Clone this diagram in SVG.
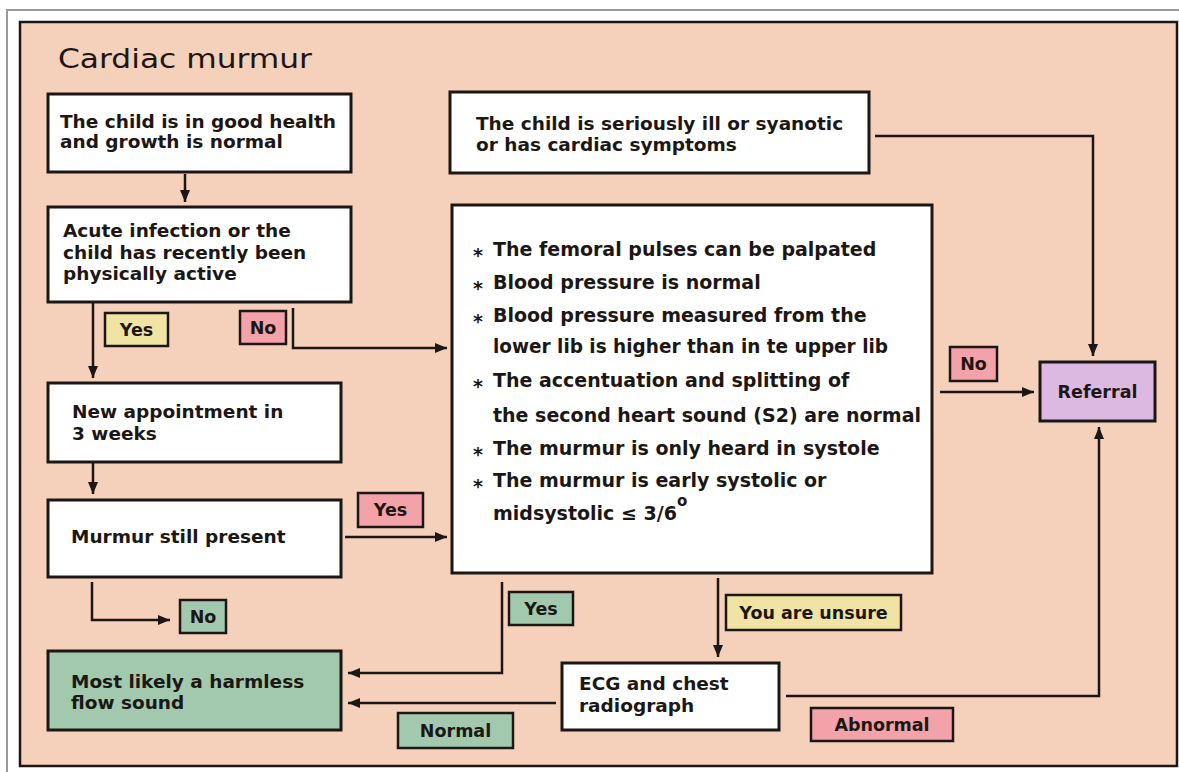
<svg xmlns="http://www.w3.org/2000/svg" width="1179" height="772" viewBox="0 0 1179 772">
<defs>
<style>
.box{stroke:#1c1714;stroke-width:3;fill:#ffffff}
.lbl{stroke:#1c1714;stroke-width:2.5}
.yel{fill:#f1e3a3}
.pnk{fill:#f2a2a8}
.grn{fill:#a2c9ae}
.pur{fill:#dcb9e1}
.t{font-family:"DejaVu Sans","Liberation Sans",Arial,sans-serif;font-weight:bold;fill:#1c1714;font-size:18.5px}
.b{font-size:19px}
.l{font-size:17.5px;text-anchor:middle}
.con{fill:none;stroke:#1c1714;stroke-width:2.5}
</style>
<marker id="ah" markerWidth="12" markerHeight="10" refX="12" refY="5" orient="auto" markerUnits="userSpaceOnUse"><path d="M0,0 L12,5 L0,10 z" fill="#1c1714"/></marker>
</defs>
<rect x="0" y="0" width="1179" height="772" fill="#ffffff"/>
<rect x="7" y="10" width="1185" height="775" fill="none" stroke="#9a9a9a" stroke-width="2"/>
<rect x="20" y="22" width="1157" height="744" fill="#f5d0bb" stroke="#1c1714" stroke-width="2.5"/>
<text x="58" y="68" class="t" style="font-size:27px;font-weight:normal" textLength="254" lengthAdjust="spacingAndGlyphs">Cardiac murmur</text>

<g id="connectors">
<path class="con" d="M185,174 V202" marker-end="url(#ah)"/>
<path class="con" d="M93,302 V378" marker-end="url(#ah)"/>
<path class="con" d="M293,308 V348 H447" marker-end="url(#ah)"/>
<path class="con" d="M93,463 V494" marker-end="url(#ah)"/>
<path class="con" d="M345,537 H447" marker-end="url(#ah)"/>
<path class="con" d="M92,582 V620 H170" marker-end="url(#ah)"/>
<path class="con" d="M502,582 V673 H348" marker-end="url(#ah)"/>
<path class="con" d="M718,578 V657" marker-end="url(#ah)"/>
<path class="con" d="M556,703 H348" marker-end="url(#ah)"/>
<path class="con" d="M786,696 H1099 V427" marker-end="url(#ah)"/>
<path class="con" d="M875,136 H1093 V356" marker-end="url(#ah)"/>
<path class="con" d="M940,392 H1034" marker-end="url(#ah)"/>
</g>

<g id="n-good-health">
<rect class="box" x="48" y="94" width="303" height="78"/>
<text class="t" x="60" y="128">The child is in good health</text>
<text class="t" x="60" y="148">and growth is normal</text>
</g>
<g id="n-acute">
<rect class="box" x="48" y="207" width="303" height="95"/>
<text class="t" x="63" y="237">Acute infection or the</text>
<text class="t" x="63" y="259">child has recently been</text>
<text class="t" x="63" y="280">physically active</text>
</g>
<g id="l-yes1">
<rect class="lbl yel" x="105" y="313" width="63" height="33"/>
<text class="t l" x="136.5" y="336">Yes</text>
</g>
<g id="l-no1">
<rect class="lbl pnk" x="240" y="311" width="46" height="33"/>
<text class="t l" x="263" y="334">No</text>
</g>
<g id="n-appointment">
<rect class="box" x="48" y="383" width="293" height="79"/>
<text class="t" x="72" y="418">New appointment in</text>
<text class="t" x="72" y="440">3 weeks</text>
</g>
<g id="n-still-present">
<rect class="box" x="48" y="500" width="293" height="77"/>
<text class="t" x="71" y="543">Murmur still present</text>
</g>
<g id="l-yes2">
<rect class="lbl pnk" x="358" y="493" width="65" height="34"/>
<text class="t l" x="390.5" y="516">Yes</text>
</g>
<g id="l-no2">
<rect class="lbl grn" x="180" y="600" width="46" height="33"/>
<text class="t l" x="203" y="623">No</text>
</g>
<g id="n-harmless">
<rect class="box grn" x="48" y="651" width="293" height="79"/>
<text class="t" x="71" y="688">Most likely a harmless</text>
<text class="t" x="71" y="709">flow sound</text>
</g>
<g id="l-yes3">
<rect class="lbl grn" x="509" y="592" width="64" height="33"/>
<text class="t l" x="541" y="615">Yes</text>
</g>
<g id="l-normal">
<rect class="lbl grn" x="398" y="713" width="115" height="35"/>
<text class="t l" x="455.5" y="737">Normal</text>
</g>
<g id="n-seriously-ill">
<rect class="box" x="450" y="92" width="419" height="81"/>
<text class="t" x="476" y="130">The child is seriously ill or syanotic</text>
<text class="t" x="476" y="151">or has cardiac symptoms</text>
</g>
<g id="n-criteria">
<rect class="box" x="452" y="205" width="480" height="368"/>
<g class="t b">
<text x="473" y="262">*</text><text x="493" y="256">The femoral pulses can be palpated</text>
<text x="473" y="295">*</text><text x="493" y="289">Blood pressure is normal</text>
<text x="473" y="328">*</text><text x="493" y="322">Blood pressure measured from the</text>
<text x="493" y="353" textLength="395" lengthAdjust="spacingAndGlyphs">lower lib is higher than in te upper lib</text>
<text x="473" y="393">*</text><text x="493" y="387">The accentuation and splitting of</text>
<text x="493" y="422" textLength="428" lengthAdjust="spacingAndGlyphs">the second heart sound (S2) are normal</text>
<text x="473" y="461">*</text><text x="493" y="455">The murmur is only heard in systole</text>
<text x="473" y="493">*</text><text x="493" y="487">The murmur is early systolic or</text>
<text x="493" y="520">midsystolic ≤ 3/6<tspan dy="-14" font-size="15">o</tspan></text>
</g>
</g>
<g id="l-unsure">
<rect class="lbl yel" x="726" y="595" width="175" height="35"/>
<text class="t l" x="813.5" y="619">You are unsure</text>
</g>
<g id="n-ecg">
<rect class="box" x="562" y="663" width="217" height="67"/>
<text class="t" x="579" y="690">ECG and chest</text>
<text class="t" x="579" y="712">radiograph</text>
</g>
<g id="l-abnormal">
<rect class="lbl pnk" x="811" y="708" width="142" height="33"/>
<text class="t l" x="882" y="731">Abnormal</text>
</g>
<g id="l-no3">
<rect class="lbl pnk" x="950" y="347" width="47" height="34"/>
<text class="t l" x="973.5" y="370">No</text>
</g>
<g id="n-referral">
<rect class="box pur" x="1040" y="362" width="115" height="59"/>
<text class="t l" x="1097.5" y="398">Referral</text>
</g>
</svg>
